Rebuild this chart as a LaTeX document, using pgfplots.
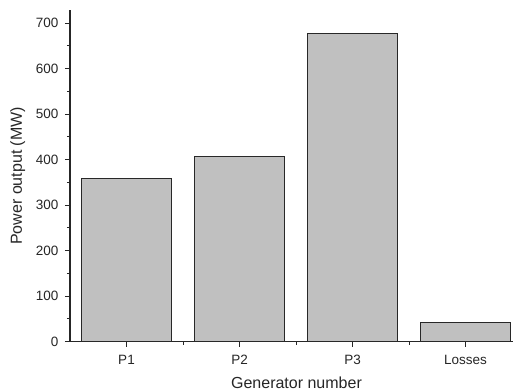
\documentclass[border=0pt]{standalone}
\usepackage{pgfplots}
\pgfplotsset{compat=1.18}
\usepackage{fontspec}
\setmainfont{Liberation Sans}
\definecolor{barfill}{RGB}{192,192,192}
\definecolor{baredge}{RGB}{40,40,40}
\begin{document}
\begin{tikzpicture}
\useasboundingbox (0,0) rectangle (513bp,392bp);
\begin{axis}[
  at={(70bp,50.3bp)}, anchor=south west,
  scale only axis,
  width=443bp, height=331.7bp,
  xmin=0.5, xmax=4.42,
  ymin=0, ymax=729,
  axis lines*=left,
  axis line style={line width=1.1bp, black!85},
  xtick={1,2,3,4},
  xticklabels={P1,P2,P3,Losses},
  minor xtick={1.5,2.5,3.5},
  ytick={0,100,...,700},
  minor ytick={50,150,...,650},
  tick align=outside,
  major tick length=5bp,
  minor tick length=3bp,
  tick style={line width=1bp, black!85},
  /pgf/number format/assume math mode=true,
  ticklabel style={font=\fontsize{13.5bp}{16bp}\selectfont, text=black!85},
  xticklabel style={yshift=-5bp},
  yticklabel style={xshift=-3bp},
  xlabel={Generator number},
  ylabel={Power output (MW)},
  label style={font=\fontsize{16bp}{19bp}\selectfont, text=black!85},
  xlabel style={xshift=5bp, yshift=-5bp},
  ylabel style={yshift=4bp},
  clip=false,
]
\addplot[ybar, bar width=0.8, fill=barfill, draw=baredge, line width=1bp]
  coordinates {(1,359) (2,407) (3,677) (4,42.6)};
\end{axis}
\end{tikzpicture}
\end{document}
